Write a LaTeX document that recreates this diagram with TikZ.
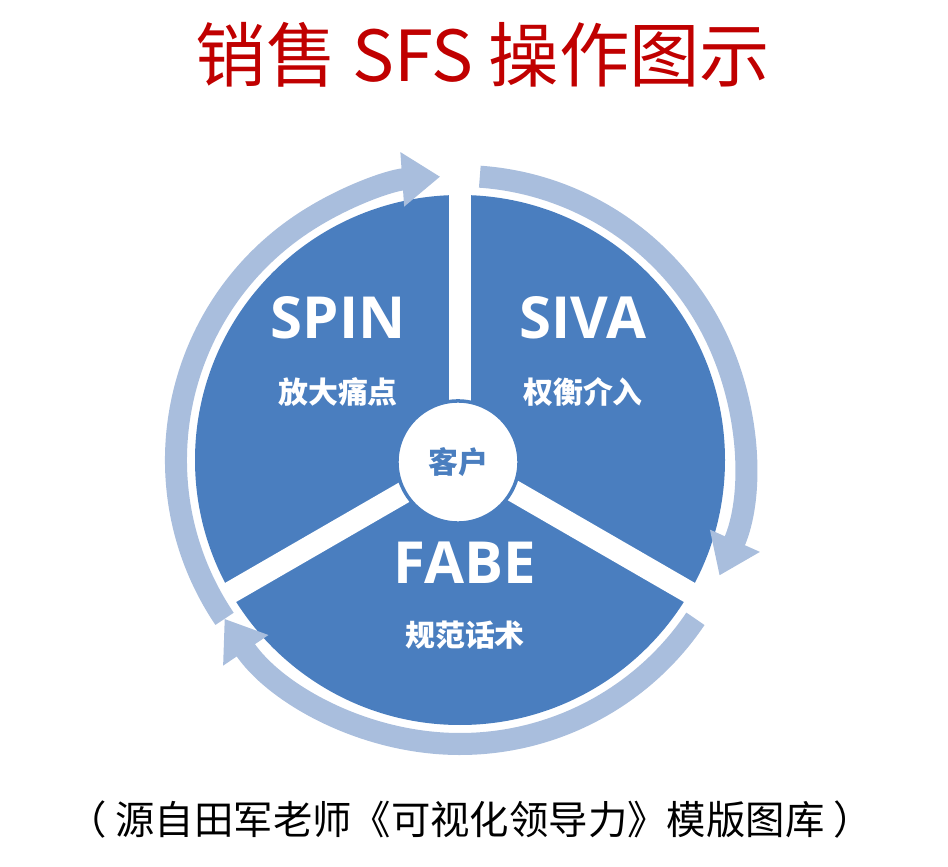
\documentclass[tikz,border=0pt]{standalone}
\usepackage{fontspec}
\setmainfont{Open Sans}
\newfontfamily\cjk{Noto Sans CJK SC}
\usetikzlibrary{arrows.meta,calc}
\definecolor{pieblue}{HTML}{4A7EBF}
\definecolor{ringblue}{HTML}{A9BEDD}
\definecolor{titlered}{HTML}{C00000}
\begin{document}
\begin{tikzpicture}[x=0.01cm,y=0.01cm,
  ring/.style={draw=ringblue,line width=0.22cm,-{Triangle[length=0.38cm,width=0.52cm]}},
  gap/.style={draw=white,line width=0.22cm},
  big/.style={text=white,font=\fontsize{16.5}{18}\selectfont\bfseries},
  small/.style={text=white,font=\cjk\bfseries\fontsize{8.5}{10}\selectfont}]
\useasboundingbox (0,0) rectangle (948,866);
\coordinate (c) at (460,406);
\fill[pieblue] (c) circle[radius=265];
\draw[gap] (c) -- ++(90:300) coordinate (g1);
\draw[gap] (c) -- ++(210:300) coordinate (g2);
\draw[gap] (c) -- ++(330:300) coordinate (g3);
\draw[ring] ($(c)+(214:284)$) arc[start angle=214,end angle=94,radius=284];
\draw[ring] ($(c)+(86:284)$) arc[start angle=86,end angle=-24,radius=284];
\draw[ring] ($(c)+(-34:284)$) arc[start angle=-34,end angle=-146,radius=284];
\node[circle,fill=white,draw=pieblue,line width=1pt,minimum size=1.22cm,text=pieblue,font=\cjk\bfseries\fontsize{8.5}{10}\selectfont] (kh) at (458,404) {客户};
\node[big] (spin) at (338,548) {SPIN};
\node[small] (spins) at (338,474) {放大痛点};
\node[big] (siva) at (583,548) {SIVA};
\node[small] (sivas) at (583,474) {权衡介入};
\node[big] (fabe) at (465,303) {FABE};
\node[small] (fabes) at (465,231) {规范话术};
\node[text=titlered,font=\cjk\fontsize{20}{24}\selectfont] (title) at (483,811) {销售 SFS 操作图示};
\node[font=\cjk\fontsize{11.2}{13}\selectfont] (cap) at (470,46) {（ 源自田军老师《可视化领导力》模版图库 ）};
\end{tikzpicture}
\end{document}
